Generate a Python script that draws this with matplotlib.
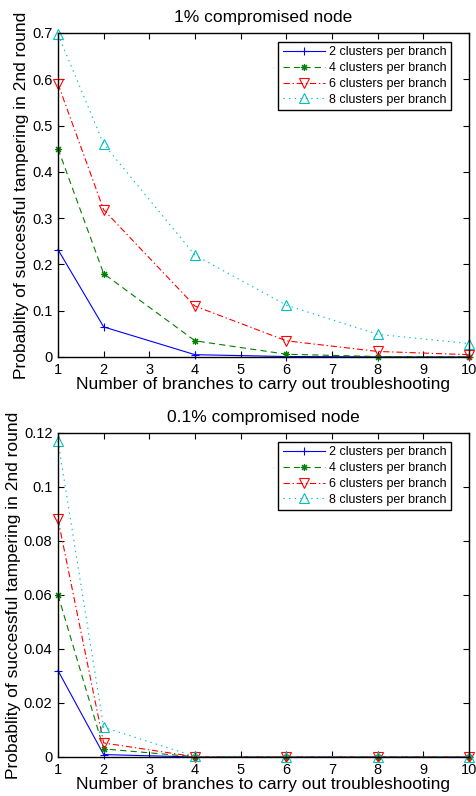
import matplotlib
matplotlib.use('Agg')
import matplotlib.pyplot as plt

plt.rcParams['font.family'] = ['Liberation Sans', 'DejaVu Sans']
plt.rcParams['lines.scale_dashes'] = False

branches = [1, 2, 4, 6, 8, 10]
labels = ['2 clusters per branch', '4 clusters per branch',
          '6 clusters per branch', '8 clusters per branch']

# 1% compromised node
top_c2 = [0.232, 0.065, 0.005, 0.001, 0.0003, 0.0001]
top_c4 = [0.45, 0.18, 0.035, 0.006, 0.001, 0.0002]
top_c6 = [0.59, 0.318, 0.11, 0.035, 0.012, 0.005]
top_c8 = [0.697, 0.46, 0.22, 0.112, 0.049, 0.029]

# 0.1% compromised node
bot_c2 = [0.032, 0.0009, 0.0, 0.0, 0.0, 0.0]
bot_c4 = [0.060, 0.003, 0.0001, 0.0, 0.0, 0.0]
bot_c6 = [0.088, 0.0052, 0.0001, 0.0, 0.0, 0.0]
bot_c8 = [0.117, 0.011, 0.0002, 0.0, 0.0, 0.0]

styles = [
    dict(color='#0000ff', ls='-', marker='+', ms=6, mfc='none'),
    dict(color='#008000', ls=(0, (4.5, 3)), marker=(8, 2, 0), ms=5, mfc='none'),
    dict(color='#ff0000', ls=(0, (4.5, 2, 1, 2)), marker='v', ms=6.5, mfc='none'),
    dict(color='#00bfbf', ls=(0, (1, 3)), marker='^', ms=6.5, mfc='none'),
]


def draw(ax, series, title, ymax, yticks, yticklabels):
    for vals, st, lab in zip(series, styles, labels):
        ax.plot(branches, vals, lw=0.8, mew=0.8, label=lab, clip_on=False, **st)
    ax.set_xlim(1, 10)
    ax.set_ylim(0, ymax)
    ax.set_xticks(range(1, 11))
    ax.set_yticks(yticks)
    ax.set_yticklabels(yticklabels)
    ax.tick_params(direction='in', top=True, right=True, labelsize=10.5, length=4, pad=4)
    for s in ax.spines.values():
        s.set_linewidth(1.0)
    ax.set_title(title, fontsize=12.5, pad=8)
    ax.set_xlabel('Number of branches to carry out troubleshooting', fontsize=12.5, labelpad=0)
    ax.set_ylabel('Probablity of successful tampering in 2nd round', fontsize=12.5, labelpad=2)
    leg = ax.legend(loc='upper right', bbox_to_anchor=(0.956, 0.972), fontsize=9,
                    fancybox=False, framealpha=1, borderpad=0.35, labelspacing=0.3,
                    handlelength=3.4, handletextpad=0.3, borderaxespad=0)
    leg.get_frame().set_edgecolor('black')
    leg.get_frame().set_linewidth(1.0)


fig = plt.figure(figsize=(4.77, 7.96), dpi=100)
ax1 = fig.add_axes([58 / 477, 1 - 357 / 796, 411 / 477, 324 / 796])
ax2 = fig.add_axes([58 / 477, 1 - 757 / 796, 411 / 477, 324 / 796])

draw(ax1, [top_c2, top_c4, top_c6, top_c8], '1% compromised node', 0.7,
     [0, 0.1, 0.2, 0.3, 0.4, 0.5, 0.6, 0.7],
     ['0', '0.1', '0.2', '0.3', '0.4', '0.5', '0.6', '0.7'])
draw(ax2, [bot_c2, bot_c4, bot_c6, bot_c8], '0.1% compromised node', 0.12,
     [0, 0.02, 0.04, 0.06, 0.08, 0.1, 0.12],
     ['0', '0.02', '0.04', '0.06', '0.08', '0.1', '0.12'])

fig.savefig('out.png', dpi=100)
